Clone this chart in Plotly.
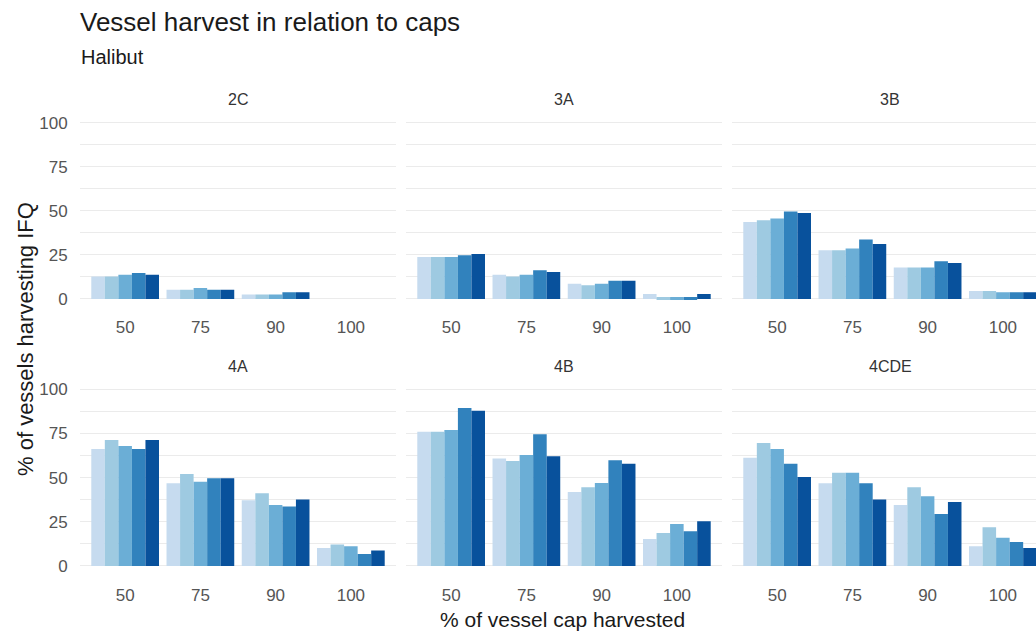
import plotly.graph_objects as go

W, H = 1036, 632

categories = ["50", "75", "90", "100"]
facets = ["2C", "3A", "3B", "4A", "4B", "4CDE"]
series_names = ["Series 1", "Series 2", "Series 3", "Series 4", "Series 5"]
colors = ["#c6dbef", "#9ecae1", "#6baed6", "#3182bd", "#08519c"]

# values per facet: one row per series, columns follow categories
values_2C = [[12.7, 5.3, 2.6, 0], [12.7, 5.3, 2.6, 0], [13.8, 6.2, 2.6, 0],
             [14.7, 5.3, 3.8, 0], [13.8, 5.3, 3.8, 0]]
values_3A = [[23.8, 13.8, 8.7, 2.8], [23.8, 12.7, 7.8, 1.1], [23.8, 13.8, 8.7, 1.1],
             [24.8, 16.3, 10.4, 1.1], [25.5, 15.3, 10.4, 2.8]]
values_3B = [[43.7, 27.6, 17.8, 4.5], [44.6, 27.6, 17.8, 4.5], [45.6, 28.7, 17.8, 3.8],
             [49.7, 33.7, 21.4, 3.8], [48.8, 31.2, 20.4, 3.8]]
values_4A = [[66.2, 46.8, 37.2, 10.2], [71.3, 52.1, 41.1, 12.1], [67.9, 47.7, 34.5, 11.1],
             [66.2, 49.6, 33.6, 6.8], [71.3, 49.6, 37.7, 8.7]]
values_4B = [[76.0, 60.9, 41.9, 15.3], [76.0, 59.4, 44.5, 18.7], [77.0, 62.8, 47.0, 23.8],
             [89.4, 74.5, 59.8, 19.6], [87.9, 62.1, 57.9, 25.3]]
values_4CDE = [[61.3, 46.8, 34.5, 11.1], [69.6, 52.8, 44.5, 21.9], [66.2, 52.8, 39.4, 16.0],
               [57.9, 46.8, 29.4, 13.6], [50.4, 37.7, 36.2, 10.2]]

y_ticks = [0, 25, 50, 75, 100]

facet_values = {"2C": values_2C, "3A": values_3A, "3B": values_3B,
                "4A": values_4A, "4B": values_4B, "4CDE": values_4CDE}

# layout geometry (pixels)
col_px = [(80, 396), (406, 722), (732, 1036)]
row_px = [(113.9, 307.8), (380.5, 574.8)]   # top, bottom in screen px
unit_px = 316 / 4.2

grid_col = "#ebebeb"
tick_col = "#555555"
font_family = "Liberation Sans, Arial, sans-serif"

fig = go.Figure()
layout = {}
annotations = []

for i, fac in enumerate(facets):
    r, c = divmod(i, 3)
    n = i + 1
    xa = "x" if n == 1 else f"x{n}"
    ya = "y" if n == 1 else f"y{n}"
    for s, name in enumerate(series_names):
        fig.add_trace(go.Bar(
            x=categories, y=facet_values[fac][s], name=name,
            marker=dict(color=colors[s], line=dict(width=0)),
            offsetgroup=str(s), xaxis=xa, yaxis=ya, showlegend=False))
    x0, x1 = col_px[c]
    top, bot = row_px[r]
    xr_end = -0.6 + (x1 - x0) / unit_px
    layout["xaxis" if n == 1 else f"xaxis{n}"] = dict(
        domain=[x0 / W, x1 / W], anchor=ya, type="category",
        range=[-0.6, xr_end], showgrid=False, zeroline=False, showline=False,
        ticks="outside", ticklen=4 if r == 0 else 5, tickcolor="rgba(0,0,0,0)",
        tickfont=dict(size=17, color=tick_col, family=font_family))
    layout["yaxis" if n == 1 else f"yaxis{n}"] = dict(
        domain=[(H - bot) / H, (H - top) / H], anchor=xa,
        range=[-5, 105], tickvals=y_ticks, showticklabels=(c == 0),
        showgrid=True, gridcolor=grid_col, gridwidth=1,
        zeroline=False, showline=False,
        minor=dict(tickvals=[12.5, 37.5, 62.5, 87.5], showgrid=True,
                   gridcolor=grid_col, gridwidth=1),
        ticks="outside", ticklen=8, tickcolor="rgba(0,0,0,0)",
        tickfont=dict(size=17, color=tick_col, family=font_family))
    # facet strip label
    annotations.append(dict(
        text=fac, x=(x0 + 316 / 2) / W, y=(H - (top - 14)) / H,
        xref="paper", yref="paper", xanchor="center", yanchor="middle",
        showarrow=False, font=dict(size=16, color="#333333", family=font_family)))

annotations += [
    dict(text="Vessel harvest in relation to caps", x=78 / W, y=(H - 22) / H,
         xref="paper", yref="paper", xanchor="left", yanchor="middle",
         showarrow=False, font=dict(size=26, color="#1a1a1a", family=font_family)),
    dict(text="Halibut", x=79 / W, y=(H - 57) / H,
         xref="paper", yref="paper", xanchor="left", yanchor="middle",
         showarrow=False, font=dict(size=20, color="#1a1a1a", family=font_family)),
    dict(text="% of vessel cap harvested", x=562.5 / W, y=(H - 619) / H,
         xref="paper", yref="paper", xanchor="center", yanchor="middle",
         showarrow=False, font=dict(size=21, color="#1a1a1a", family=font_family)),
    dict(text="% of vessels harvesting IFQ", x=25 / W, y=(H - 339) / H,
         xref="paper", yref="paper", xanchor="center", yanchor="middle",
         textangle=-90,
         showarrow=False, font=dict(size=22, color="#1a1a1a", family=font_family)),
]

fig.update_layout(
    width=W, height=H, margin=dict(l=0, r=0, t=0, b=0),
    paper_bgcolor="white", plot_bgcolor="white",
    barmode="group", bargap=0.1, bargroupgap=0,
    showlegend=False, annotations=annotations,
    font=dict(family=font_family), **layout)

fig.write_html("out.html")
